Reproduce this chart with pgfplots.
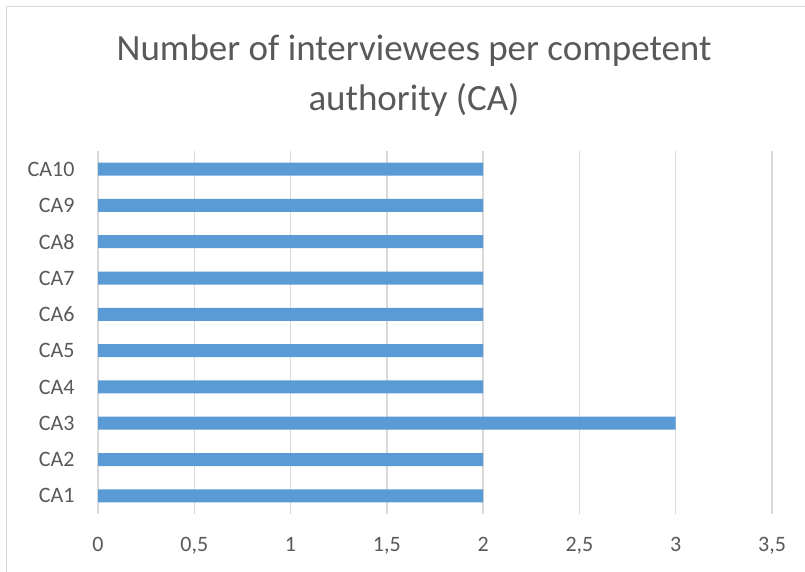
\documentclass[border=0pt]{standalone}
\usepackage{fontspec}
\setmainfont{Carlito}
\usepackage{pgfplots}
\pgfplotsset{compat=1.18}
\definecolor{barblue}{HTML}{5B9BD5}
\definecolor{txtgray}{HTML}{595959}
\definecolor{gridgray}{HTML}{D9D9D9}
\begin{document}
\begin{tikzpicture}[x=1pt,y=1pt]
\path[use as bounding box] (0,0) rectangle (805,572);
\draw[gridgray, line width=1.5pt] (6.5,0) -- (6.5,565.5) -- (806,565.5);
\node[align=center, text=txtgray, font=\fontsize{37}{50}\selectfont] at (414,496) {Number of interviewees per competent\\authority (CA)};
\begin{axis}[
  at={(98pt,58pt)}, anchor=south west,
  scale only axis, width=674pt, height=363pt,
  xbar, bar width=13pt,
  xmin=0, xmax=3.5, ymin=0.5, ymax=10.5,
  xtick={0,0.5,...,3.5},
  ytick={1,...,10},
  yticklabels={CA1,CA2,CA3,CA4,CA5,CA6,CA7,CA8,CA9,CA10},
  /pgf/number format/assume math mode=true,
  /pgf/number format/use comma,
  /pgf/number format/fixed,
  xmajorgrids, grid style={gridgray, line width=1.5pt},
  axis line style={draw=none},
  major tick length=0pt,
  tick label style={text=txtgray, font=\fontsize{22}{26}\selectfont},
  xticklabel style={yshift=-20pt},
  yticklabel style={xshift=-20pt},
]
\addplot[fill=barblue, draw=none] coordinates {
(2,1) (2,2) (3,3) (2,4) (2,5) (2,6) (2,7) (2,8) (2,9) (2,10)
};
\end{axis}
\end{tikzpicture}
\end{document}
